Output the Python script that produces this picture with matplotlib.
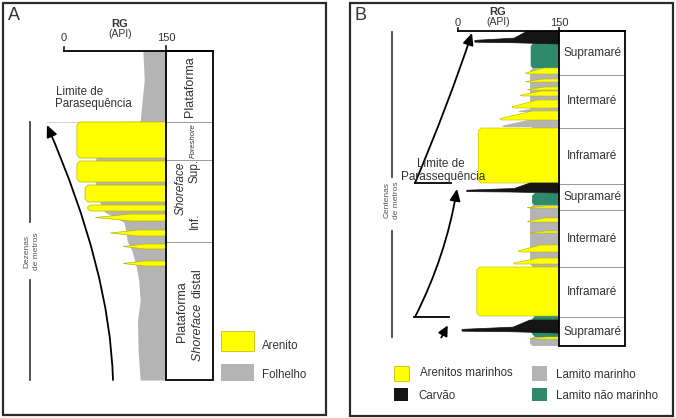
import matplotlib
matplotlib.use("Agg")
import matplotlib.pyplot as plt
from matplotlib.patches import Rectangle, Polygon, FancyArrowPatch
from matplotlib.path import Path

plt.rcParams['font.family'] = ['Liberation Sans', 'DejaVu Sans']

W, H = 676, 418
TXT = '#333333'
YELLOW = '#ffff00'
SAND_EDGE = '#b8b400'
GREY = '#b4b4b4'
GREEN = '#2e8a6a'
COAL = '#141414'
LINE_GREY = '#9a9a9a'

# ---------------- Painel A (shoreface) ----------------
# profundidade em unidades arbitrarias (0 = topo do perfil), RG em API
A_depth_max = 32.9
A_facies_top = [0.0, 7.1, 10.9, 19.1]
A_facies_base = [7.1, 10.9, 19.1, 32.9]

A_shale_depth = [0.0, 2.9, 4.9, 7.0, 7.1, 13.2, 15.2, 16.1, 17.1, 18.0, 19.0, 20.0,
                 21.5, 23.0, 25.0, 27.0, 30.0, 32.9]
A_shale_gr = [116, 118, 115, 112, 48, 46, 53, 60, 88, 91, 93, 100,
              106, 110, 112, 108, 109, 112]

A_sand_top = [7.1, 11.0, 13.4, 15.4, 16.3, 17.9, 19.3, 21.0]
A_sand_base = [10.7, 13.1, 15.1, 16.0, 17.0, 18.5, 19.8, 21.5]
A_sand_gr = [19, 19, 31, 35, 46, 68, 87, 87]
A_sand_shape = ['block', 'block', 'block', 'block', 'lens', 'lens', 'lens', 'lens']

# ---------------- Painel B (planicie de mare) ----------------
B_depth_max = 31.5
B_facies_top = [0.0, 4.4, 9.7, 15.3, 17.9, 23.6, 28.6]
B_facies_base = [4.4, 9.7, 15.3, 17.9, 23.6, 28.6, 31.5]
B_facies_name = ['Supramaré', 'Intermaré', 'Inframaré', 'Supramaré',
                 'Intermaré', 'Inframaré', 'Supramaré']

B_mud_top = [1.2, 3.7, 7.6, 8.8, 16.2, 17.4, 28.5, 30.6]
B_mud_base = [3.8, 9.7, 8.1, 9.6, 17.5, 23.6, 30.6, 31.5]
B_mud_gr = [108, 107, 89, 65, 110, 107, 110, 107]
B_mud_kind = ['nao_marinho', 'marinho', 'marinho', 'marinho',
              'nao_marinho', 'marinho', 'nao_marinho', 'marinho']
B_mud_shape = ['block', 'block', 'wedge', 'wedge', 'block', 'block', 'block', 'block']

B_sand_top = [3.7, 4.8, 5.6, 6.0, 6.9, 8.0, 9.7, 17.5, 18.7, 20.0, 21.4, 22.7, 23.6, 30.6]
B_sand_base = [4.3, 5.1, 5.9, 6.5, 7.7, 8.9, 15.2, 17.7, 19.1, 20.2, 22.1, 23.3, 28.5, 30.8]
B_sand_gr = [100, 100, 103, 92, 80, 62, 30, 103, 103, 107, 89, 82, 28, 107]
B_sand_shape = ['wedge'] * 6 + ['block'] + ['wedge'] * 5 + ['block', 'wedge']

B_coal_top = [0.0, 15.2, 28.9]
B_coal_base = [1.3, 16.2, 30.2]
B_coal_tip = [25, 13, 6]
B_coal_body = [103, 107, 107]


def block(top, base, gr, right=150.0):
    c = min(0.3, (base - top) / 4)
    return [(right, top), (gr + 4, top), (gr, top + c), (gr, base - c),
            (gr + 4, base), (right, base)]


def lens(top, base, gr, right=150.0):
    mid = (top + base) / 2
    k = gr + 0.5 * (right - gr)
    return [(right, top), (k, top), (gr, mid), (k, base), (right, base)]


def wedge(top, base, gr, right=150.0):
    h = base - top
    k = gr + 0.55 * (right - gr)
    return [(right, top), (k, top), (gr, base - 0.15 * h), (gr + 3, base), (right, base)]


def coal(top, base, tip, body, right=150.0):
    h = base - top
    return [(right, top), (body, top), (body - 0.25 * (body - tip), top + 0.55 * h),
            (tip, top + 0.72 * h), (tip, top + 0.86 * h),
            (body - 0.3 * (body - tip), top + 0.9 * h), (right, base)]


def shape_poly(shape, top, base, gr):
    if shape == 'block':
        return block(top, base, gr)
    if shape == 'wedge':
        return wedge(top, base, gr)
    return lens(top, base, gr)


def px_axes(fig, x0, y0, x1, y1):
    return fig.add_axes([x0 / W, 1 - y1 / H, (x1 - x0) / W, (y1 - y0) / H])


fig = plt.figure(figsize=(W / 100, H / 100), dpi=100)

# ---------- log A ----------
axA = px_axes(fig, 64, 51, 213, 380)
A_xmax = 150 * (213 - 64) / 102
axA.set_xlim(0, A_xmax)
axA.set_ylim(A_depth_max, 0)
axA.axis('off')

axA.fill_betweenx(A_shale_depth, A_shale_gr, 150, color=GREY, lw=0, zorder=1)
for t, b, g, s in zip(A_sand_top, A_sand_base, A_sand_gr, A_sand_shape):
    axA.add_patch(Polygon(shape_poly(s, t, b, g), closed=True, fc=YELLOW,
                          ec=SAND_EDGE, lw=0.5, zorder=2))

# limite de parasequencia (linha fina)
axA.plot([-25, 150], [A_facies_top[1]] * 2, color='#c8c8c8', lw=0.6, zorder=0.5,
         clip_on=False)
for t in A_facies_top[1:]:
    axA.plot([150, A_xmax], [t, t], color=LINE_GREY, lw=0.7, zorder=3)
axA.add_patch(Rectangle((150, 0), A_xmax - 150, A_depth_max, fill=False, ec='k',
                        lw=1.3, zorder=4, clip_on=False))
axA.plot([0, A_xmax], [0, 0], color='k', lw=1.3, clip_on=False, zorder=4)
axA.plot([0, 0], [0, -0.4], color='k', lw=1.1, clip_on=False)
axA.plot([150, 150], [0, -0.5], color='k', lw=1.1, clip_on=False)
axA.text(0, -1.3, '0', ha='center', va='center', fontsize=8, color=TXT)
axA.text(150, -1.3, '150', ha='center', va='center', fontsize=8, color=TXT)

# textos das facies A
fx = 150 + (A_xmax - 150) / 2
m0 = (A_facies_top[0] + A_facies_base[0]) / 2
axA.text(fx, m0, 'Plataforma', rotation=90, ha='center', va='center', fontsize=9, color=TXT)
m1 = (A_facies_top[1] + A_facies_base[1]) / 2
axA.text(fx + 6, m1, 'Foreshore', rotation=90, ha='center', va='center', fontsize=5.5,
         style='italic', color=TXT)
axA.text(171, 13.7, 'Shoreface', rotation=90, ha='center', va='center', fontsize=8.5,
         style='italic', color=TXT)
axA.text(192, 12.0, 'Sup.', rotation=90, ha='center', va='center', fontsize=8.5, color=TXT)
axA.text(192, 17.0, 'Inf.', rotation=90, ha='center', va='center', fontsize=8.5, color=TXT)
axA.text(173, 26.1, 'Plataforma', rotation=90, ha='center', va='center', fontsize=9, color=TXT)
axA.text(197, 24.95, 'Shoreface ', rotation=90, rotation_mode='anchor', ha='right',
         va='center', fontsize=9, style='italic', color=TXT)
axA.text(197, 24.75, 'distal', rotation=90, rotation_mode='anchor', ha='left',
         va='center', fontsize=9, color=TXT)

# ---------- log B ----------
axB = px_axes(fig, 458, 31, 625, 346)
B_xmax = 150 * (625 - 458) / 101
axB.set_xlim(0, B_xmax)
axB.set_ylim(B_depth_max, 0)
axB.axis('off')

for t, b, g, k, s in zip(B_mud_top, B_mud_base, B_mud_gr, B_mud_kind, B_mud_shape):
    c = GREEN if k == 'nao_marinho' else GREY
    axB.add_patch(Polygon(shape_poly(s, t, b, g), closed=True, fc=c, ec='none', zorder=1))
for t, b, g, s in zip(B_sand_top, B_sand_base, B_sand_gr, B_sand_shape):
    axB.add_patch(Polygon(shape_poly(s, t, b, g), closed=True, fc=YELLOW,
                          ec=SAND_EDGE, lw=0.4, zorder=2))
for t, b, tp, bd in zip(B_coal_top, B_coal_base, B_coal_tip, B_coal_body):
    axB.add_patch(Polygon(coal(t, b, tp, bd), closed=True, fc=COAL, ec=COAL, lw=0.5,
                          zorder=3))

for t in B_facies_top[1:]:
    axB.plot([150, B_xmax], [t, t], color=LINE_GREY, lw=0.7, zorder=3)
axB.add_patch(Rectangle((150, 0), B_xmax - 150, B_depth_max, fill=False, ec='k',
                        lw=1.3, zorder=4, clip_on=False))
axB.plot([0, B_xmax], [0, 0], color='k', lw=1.3, clip_on=False, zorder=4)
axB.plot([0, 0], [0, -0.35], color='k', lw=1.1, clip_on=False)
axB.plot([150, 150], [0, -0.35], color='k', lw=1.1, clip_on=False)
axB.text(0, -0.75, '0', ha='center', va='center', fontsize=8, color=TXT)
axB.text(150, -0.75, '150', ha='center', va='center', fontsize=8, color=TXT)
for t, b, n in zip(B_facies_top, B_facies_base, B_facies_name):
    axB.text(150 + (B_xmax - 150) / 2, (t + b) / 2, n, ha='center', va='center',
             fontsize=8.5, color=TXT)

# ---------- camada de anotacoes (pixels) ----------
ax = fig.add_axes([0, 0, 1, 1])
ax.set_xlim(0, W)
ax.set_ylim(H, 0)
ax.axis('off')
ax.patch.set_visible(False)

ax.add_patch(Rectangle((3, 3), 323, 412, fill=False, ec='#2a2a2a', lw=1.6))
ax.add_patch(Rectangle((350, 3), 323, 413, fill=False, ec='#2a2a2a', lw=1.6))
ax.text(8, 16, 'A', fontsize=13, color=TXT, ha='left', va='center')
ax.text(355, 15, 'B', fontsize=13, color=TXT, ha='left', va='center')

ax.text(120, 24, 'RG', fontsize=8, fontweight='bold', color=TXT, ha='center', va='center')
ax.text(120, 34, '(API)', fontsize=7.5, color=TXT, ha='center', va='center')
ax.text(498, 12, 'RG', fontsize=8, fontweight='bold', color=TXT, ha='center', va='center')
ax.text(498, 22, '(API)', fontsize=7.5, color=TXT, ha='center', va='center')


def arrow(pts, hl=7, hw=3.2):
    p = Path(pts, [Path.MOVETO, Path.CURVE3, Path.CURVE3])
    ax.add_patch(FancyArrowPatch(path=p, arrowstyle=f'-|>,head_length={hl},head_width={hw}',
                                 color='k', lw=1.3, mutation_scale=1))


# painel A
ax.plot([30, 30], [122, 222], color='#444444', lw=1.3)
ax.plot([30, 30], [280, 380], color='#444444', lw=1.3)
ax.text(27, 251, 'Dezenas', rotation=90, fontsize=6, color='#555555', ha='center', va='center')
ax.text(37, 251, 'de metros', rotation=90, fontsize=6, color='#555555', ha='center', va='center')
arrow([(113, 380), (110, 270), (47, 125)])
ax.text(56, 92, 'Limite de', fontsize=8.3, color=TXT, ha='left', va='center')
ax.text(55, 104, 'Parasequência', fontsize=8.3, color=TXT, ha='left', va='center')

ax.add_patch(Rectangle((221, 331), 33, 20, fc=YELLOW, ec=SAND_EDGE, lw=0.5))
ax.add_patch(Rectangle((221, 364), 33, 17, fc=GREY, ec='none'))
ax.text(262, 346, 'Arenito', fontsize=8.3, color=TXT, ha='left', va='center')
ax.text(262, 375, 'Folhelho', fontsize=8.3, color=TXT, ha='left', va='center')

# painel B
ax.plot([392, 392], [32, 177], color='#444444', lw=1.3)
ax.plot([392, 392], [231, 337], color='#444444', lw=1.3)
ax.text(387, 200, 'Centenas', rotation=90, fontsize=6, color='#555555', ha='center', va='center')
ax.text(397, 200, 'de metros', rotation=90, fontsize=6, color='#555555', ha='center', va='center')
ax.plot([415, 451], [183, 183], color='k', lw=1.3)
ax.plot([414, 449], [317, 317], color='k', lw=1.3)
arrow([(415, 183), (448, 105), (472, 33)])
arrow([(415, 317), (446, 256), (457, 189)])
ax.add_patch(FancyArrowPatch((440, 340), (449, 323), arrowstyle='-|>,head_length=6,head_width=3',
                             mutation_scale=1, color='k', lw=1.3))
ax.text(441, 164, 'Limite de', fontsize=8.5, color=TXT, ha='center', va='center')
ax.text(443, 177, 'Parassequência', fontsize=8.5, color=TXT, ha='center', va='center')

ax.add_patch(Rectangle((394, 366), 15, 15, fc=YELLOW, ec=SAND_EDGE, lw=0.5))
ax.add_patch(Rectangle((394, 388), 14, 13, fc=COAL, ec='none'))
ax.add_patch(Rectangle((532, 366), 15, 15, fc=GREY, ec='none'))
ax.add_patch(Rectangle((532, 388), 15, 13, fc=GREEN, ec='none'))
ax.text(420, 373, 'Arenitos marinhos', fontsize=8.3, color=TXT, ha='left', va='center')
ax.text(418, 396, 'Carvão', fontsize=8.3, color=TXT, ha='left', va='center')
ax.text(556, 375, 'Lamito marinho', fontsize=8.3, color=TXT, ha='left', va='center')
ax.text(556, 396, 'Lamito não marinho', fontsize=8.3, color=TXT, ha='left', va='center')

fig.savefig('out.png', dpi=100)
